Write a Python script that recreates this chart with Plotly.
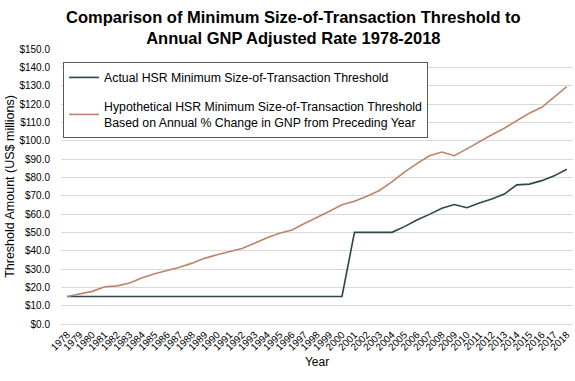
import plotly.graph_objects as go

years = list(range(1978, 2019))
year_labels = [str(y) for y in years]
actual = [15.0]*23 + [50.0, 50.0, 50.0, 50.0, 53.1, 56.7, 59.8, 63.1, 65.2, 63.4,
                      66.0, 68.2, 70.9, 75.9, 76.3, 78.2, 80.8, 84.4]
hypothetical = [15.0, 16.5, 17.8, 20.3, 20.8, 22.4, 25.2, 27.4, 29.0, 30.9,
                33.2, 35.8, 37.8, 39.3, 41.2, 44.0, 47.0, 49.5, 51.3, 54.8,
                58.0, 61.5, 65.0, 67.0, 69.7, 72.8, 77.5, 82.8, 87.5, 91.8,
                93.8, 91.8, 95.5, 99.5, 103.2, 106.8, 111.0, 115.0, 118.2, 124.0,
                129.5]

FONT = "Liberation Sans, Arial, sans-serif"

fig = go.Figure()
fig.add_trace(go.Scatter(
    x=years, y=actual, mode="lines", name="Actual HSR Minimum Size-of-Transaction Threshold",
    line=dict(color="#2B464F", width=1.6), legendgroup="a"))
fig.add_trace(go.Scatter(
    x=years, y=hypothetical, mode="lines",
    name="Hypothetical HSR Minimum Size-of-Transaction Threshold<br>Based on Annual % Change in GNP from Preceding Year",
    line=dict(color="#BC8469", width=1.6), legendgroup="b"))

fig.add_annotation(
    text="<b>Comparison of Minimum Size-of-Transaction Threshold to<br>Annual GNP Adjusted Rate 1978-2018</b>",
    xref="paper", yref="paper", x=0.455, y=1.158, xanchor="center", yanchor="top",
    showarrow=False, font=dict(size=16.5, family=FONT, color="#000000"))

fig.update_layout(
    width=575, height=381,
    margin=dict(l=61, r=2, t=49, b=57),
    paper_bgcolor="white", plot_bgcolor="white",
    font=dict(family=FONT, color="#000000"),
    showlegend=True,
    legend=dict(x=0.004, y=0.953, xanchor="left", yanchor="top",
                bordercolor="#595959", borderwidth=1, bgcolor="white",
                font=dict(size=12.3, family=FONT, color="#000000"),
                tracegroupgap=10, itemwidth=30),
    xaxis=dict(range=[1977.5, 2018.5], tickvals=years, ticktext=year_labels, tickangle=-45,
               tickfont=dict(size=10, family=FONT, color="#000000"),
               showgrid=False, showline=True, linecolor="#d9d9d9", linewidth=1,
               zeroline=False, ticks="", automargin=False,
               title=dict(text="Year", font=dict(size=12, family=FONT), standoff=5)),
    yaxis=dict(range=[0, 150], dtick=10, tickformat="$.1f",
               tickfont=dict(size=10, family=FONT, color="#000000"),
               ticklabelstandoff=10,
               showgrid=True, gridcolor="#d9d9d9", gridwidth=1, zeroline=False,
               showline=False, ticks="", automargin=False,
               title=dict(text="Threshold Amount (US$ millions)", font=dict(size=12.5, family=FONT), standoff=2)),
)

fig.write_html("out.html", config={"displayModeBar": False},
               post_script="document.body.style.margin='0';document.body.style.padding='0';")
